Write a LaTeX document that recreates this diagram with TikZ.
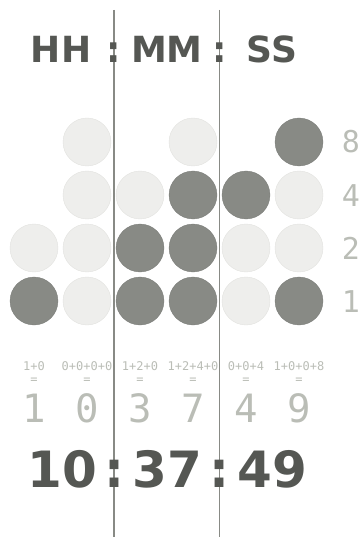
\documentclass[tikz,border=0pt]{standalone}
\usepackage{fontspec}
\setmainfont{DejaVu Sans}
\newfontfamily\monofnt{DejaVu Sans Mono}
\definecolor{dark}{HTML}{888A85}
\definecolor{light}{HTML}{EEEEEC}
\definecolor{lightedge}{HTML}{E2E2DF}
\definecolor{txtdark}{HTML}{555753}
\definecolor{txtlight}{HTML}{BABDB6}
\definecolor{linecol}{HTML}{888A85}
\begin{document}
\begin{tikzpicture}[x=1pt,y=-1pt,
  on/.style={circle,fill=dark,draw=dark!90!black,line width=0.3pt,minimum size=48pt,inner sep=0pt},
  off/.style={circle,fill=light,draw=lightedge,line width=0.4pt,minimum size=48pt,inner sep=0pt},
  head/.style={anchor=base,text=txtdark,font=\fontsize{36}{36}\selectfont\bfseries,inner sep=0pt},
  bigtime/.style={anchor=base,text=txtdark,font=\fontsize{50}{50}\selectfont\bfseries,inner sep=0pt},
  weight/.style={anchor=base,text=txtlight,font=\monofnt\fontsize{30}{30}\selectfont,inner sep=0pt},
  digit/.style={anchor=base,text=txtlight,font=\monofnt\fontsize{39}{39}\selectfont,inner sep=0pt},
  sumtxt/.style={anchor=base,text=txtlight,font=\monofnt\fontsize{12}{12}\selectfont,inner sep=0pt},
  sep/.style={draw=linecol,line width=1.1pt}]
\useasboundingbox (0,0) rectangle (362,537);
% separators
\coordinate (t1) at (114,10); \coordinate (b1) at (114,537);
\coordinate (t2) at (219.5,10); \coordinate (b2) at (219.5,537);
\draw[sep] (t1) -- (b1);
\draw[sep] (t2) -- (b2);
% header
\node[head] (hh) at (61,63) {HH};
\node[head] (c1) at (114,63) {:};
\node[head] (mm) at (167,63) {MM};
\node[head] (c2) at (219.5,63) {:};
\node[head] (ss) at (272,63) {SS};
% circles
\node[off] (a2) at (34,248) {};
\node[on]  (a1) at (34,301) {};
\node[off] (b8) at (87,142) {};
\node[off] (b4) at (87,195) {};
\node[off] (bb2) at (87,248) {};
\node[off] (bb1) at (87,301) {};
\node[off] (c4) at (140,195) {};
\node[on]  (cc2) at (140,248) {};
\node[on]  (cc1) at (140,301) {};
\node[off] (d8) at (193,142) {};
\node[on]  (d4) at (193,195) {};
\node[on]  (d2) at (193,248) {};
\node[on]  (d1) at (193,301) {};
\node[on]  (e4) at (246,195) {};
\node[off] (e2) at (246,248) {};
\node[off] (e1) at (246,301) {};
\node[on]  (f8) at (299,142) {};
\node[off] (f4) at (299,195) {};
\node[off] (f2) at (299,248) {};
\node[on]  (f1) at (299,301) {};
% weights
\node[weight] (w8) at (351,153) {8};
\node[weight] (w4) at (351,206) {4};
\node[weight] (w2) at (351,259) {2};
\node[weight] (w1) at (351,312) {1};
% sums
\node[sumtxt] (s1) at (34,370) {1+0};
\node[sumtxt] (s2) at (87,370) {0+0+0+0};
\node[sumtxt] (s3) at (140,370) {1+2+0};
\node[sumtxt] (s4) at (193,370) {1+2+4+0};
\node[sumtxt] (s5) at (246,370) {0+0+4};
\node[sumtxt] (s6) at (299,370) {1+0+0+8};
\foreach \x/\n in {34/1,87/2,140/3,193/4,246/5,299/6}
  \node[sumtxt] (eq\n) at (\x,383) {=};
% digits
\node[digit] (g1) at (34,422) {1};
\node[digit] (g2) at (87,422) {0};
\node[digit] (g3) at (140,422) {3};
\node[digit] (g4) at (193,422) {7};
\node[digit] (g5) at (246,422) {4};
\node[digit] (g6) at (299,422) {9};
% time
\node[bigtime] (th) at (62,487) {10};
\node[bigtime] (tc1) at (114,487) {:};
\node[bigtime] (tm) at (167,487) {37};
\node[bigtime] (tc2) at (219.5,487) {:};
\node[bigtime] (ts) at (272,487) {49};
\end{tikzpicture}
\end{document}
